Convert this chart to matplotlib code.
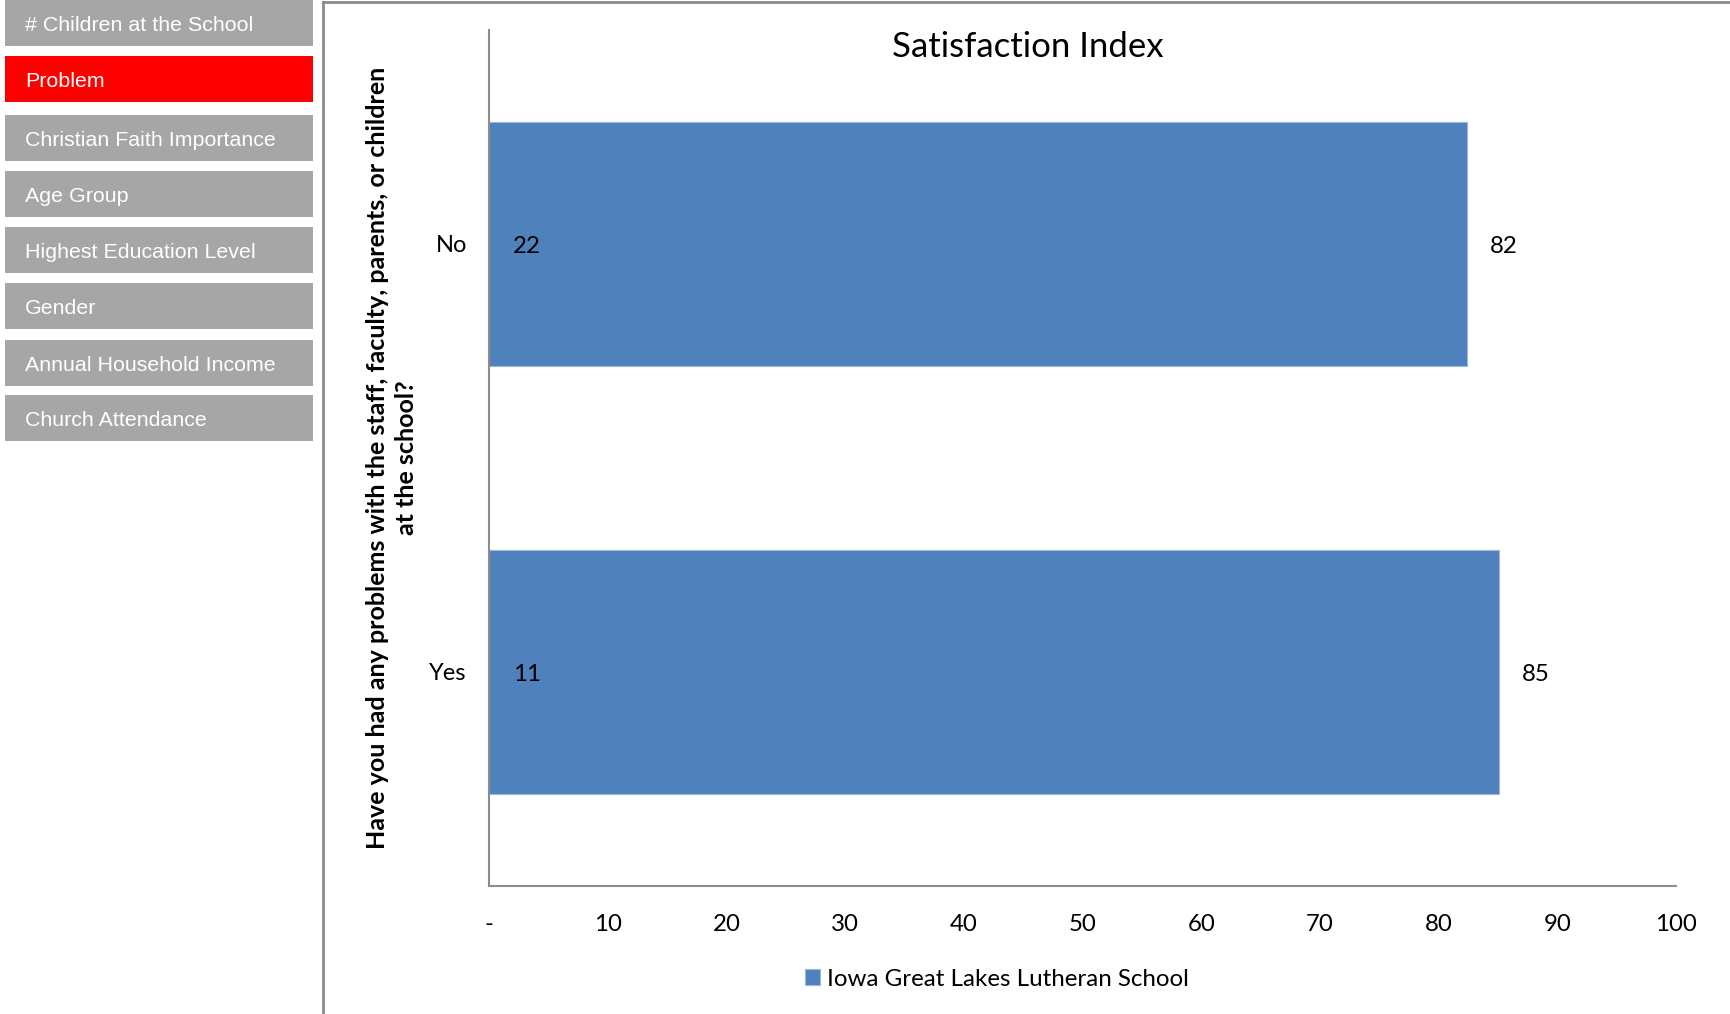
import matplotlib
matplotlib.use("Agg")
import matplotlib.pyplot as plt
from matplotlib.patches import Rectangle
from matplotlib.lines import Line2D

# ---- data ----
categories = ["Yes", "No"]
satisfaction = [85.1, 82.4]
counts = [11, 22]
x_ticks = [0, 10, 20, 30, 40, 50, 60, 70, 80, 90, 100]
x_tick_labels = ["-", "10", "20", "30", "40", "50", "60", "70", "80", "90", "100"]
series_name = "Iowa Great Lakes Lutheran School"
title = "Satisfaction Index"
y_label = "Have you had any problems with the staff, faculty, parents, or children\nat the school?"
menu_items = ["# Children at the School", "Problem", "Christian Faith Importance",
              "Age Group", "Highest Education Level", "Gender",
              "Annual Household Income", "Church Attendance"]
active_item = "Problem"

W, H = 1730, 1014
fig = plt.figure(figsize=(W / 100, H / 100), dpi=100)
fig.patch.set_facecolor("white")

CAL = ["Lato", "DejaVu Sans"]
bar_color = "#4F81BD"

# ---- sidebar menu ----
menu_tops = [0, 56, 115, 171, 227, 283, 340, 395]
for top, item in zip(menu_tops, menu_items):
    h = 45.7
    col = "#FF0000" if item == active_item else "#A6A6A6"
    fig.patches.append(Rectangle((5 / W, 1 - (top + h) / H), 308 / W, h / H,
                                 transform=fig.transFigure, facecolor=col,
                                 edgecolor="none", zorder=1))
    fig.text(25 / W, 1 - (top + h / 2 + 2.5) / H, item, color="white",
             fontsize=15.4, family="Liberation Sans", va="center", ha="left")

# ---- chart frame ----
fig.add_artist(Line2D([323 / W, 323 / W], [0, 1 - 1.5 / H], transform=fig.transFigure,
                      color="#8C8C8C", lw=2))
fig.add_artist(Line2D([323 / W, 1], [1 - 1.5 / H, 1 - 1.5 / H], transform=fig.transFigure,
                      color="#8C8C8C", lw=2))

# ---- axes ----
ax = fig.add_axes([489 / W, 1 - 886 / H, (1676 - 489) / W, (886 - 30) / H])
ypos = list(range(len(categories)))
bars = ax.barh(ypos, satisfaction, height=0.57, color=bar_color,
               edgecolor="#9DB7D9", linewidth=0.8, label=series_name)
ax.set_xlim(0, 100)
ax.set_ylim(-0.5, len(categories) - 0.5)
ax.set_yticks(ypos)
ax.set_yticklabels(categories, family=CAL, fontsize=17)
ax.set_xticks(x_ticks)
ax.set_xticklabels(x_tick_labels, family=CAL, fontsize=17.3)
ax.tick_params(axis="both", length=0)
ax.tick_params(axis="y", pad=16)
ax.tick_params(axis="x", pad=20)
for s in ["top", "right"]:
    ax.spines[s].set_visible(False)
for s in ["left", "bottom"]:
    ax.spines[s].set_color("#8C8C8C")
    ax.spines[s].set_linewidth(1.5)

for y, v, c in zip(ypos, satisfaction, counts):
    ax.text(2.0, y - 0.007, str(c), va="center", ha="left", family=CAL, fontsize=17.3)
    ax.text(v + 1.9, y - 0.007, f"{v:.0f}", va="center", ha="left", family=CAL, fontsize=17.3)

ax.text(0.454, 0.980, title, transform=ax.transAxes, ha="center", va="center",
        family=CAL, fontsize=25)

fig.text(392 / W, 1 - 458 / H, y_label, rotation=90, ha="center", va="center",
         family=CAL, fontsize=18, fontweight="bold", linespacing=1.3)

leg = fig.legend(handles=[bars], labels=[series_name], loc="center",
                 bbox_to_anchor=(997 / W, 1 - 979 / H), frameon=False,
                 prop={"family": CAL, "size": 17.4}, handlelength=0.6, handleheight=0.6,
                 handletextpad=0.3)

fig.savefig("out.png", dpi=100, facecolor="white")
